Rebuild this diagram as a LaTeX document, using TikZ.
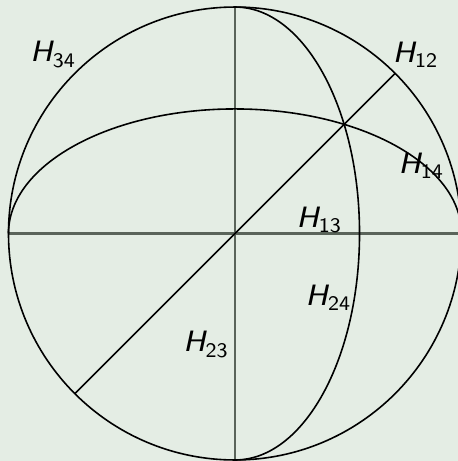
\documentclass[tikz,border=0pt]{standalone}
\usepackage{xcolor}
\definecolor{bgpale}{RGB}{228,237,228}
\definecolor{axgray}{RGB}{90,100,90}
\usepackage{tikz}
\usetikzlibrary{positioning,calc}
\newcommand{\hlab}[1]{\textit{H}\kern-0.3pt\raisebox{-1.3pt}{\fontsize{5.2}{6}\selectfont #1}}

\begin{document}
\begin{tikzpicture}[
  axis/.style={draw=axgray, line width=0.55pt},
  arcl/.style={draw=black, line width=0.4pt},
  lab/.style={font=\sffamily\fontsize{7.4}{9}\selectfont, inner sep=0pt}
]
% Background and frame
\fill[bgpale] (-2.075,-2.009) rectangle (1.969,2.062);
\useasboundingbox (-2.075,-2.009) rectangle (1.969,2.062);

\coordinate (O) at (0,0);
\coordinate (W) at (-2,0);
\coordinate (E) at (2,0);
\coordinate (N) at (0,2);
\coordinate (S) at (0,-2);
\coordinate (NE) at (45:2);
\coordinate (SW) at (225:2);

% Axes
\draw[axis] (W) -- (E);
\draw[axis] (N) -- (S);

% Sphere and great circles
\draw[arcl] (O) circle (2);
\draw[arcl] (E) arc[start angle=0, end angle=180, x radius=2, y radius=1.1];
\draw[arcl] (N) arc[start angle=90, end angle=-90, x radius=1.1, y radius=2];
\draw[arcl] (SW) -- (NE);

% Labels
\node[lab] (h34) at (-1.61, 1.58) {\hlab{34}};
\node[lab] (h12) at ( 1.59, 1.58) {\hlab{12}};
\node[lab] (h14) at ( 1.64, 0.60) {\hlab{14}};
\node[lab] (h13) at ( 0.74, 0.12) {\hlab{13}};
\node[lab] (h24) at ( 0.82,-0.57) {\hlab{24}};
\node[lab] (h23) at (-0.26,-0.98) {\hlab{23}};
\end{tikzpicture}
\end{document}
